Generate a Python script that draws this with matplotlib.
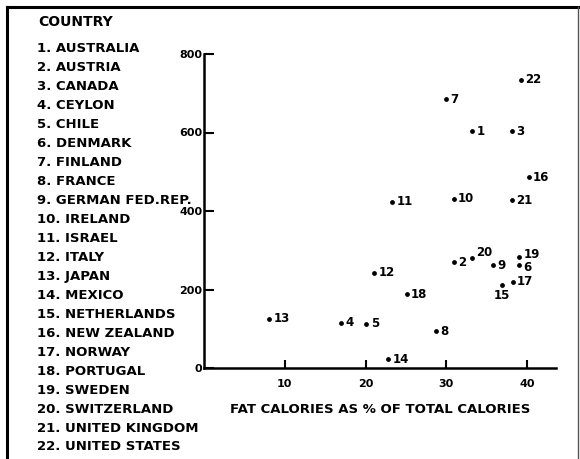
import matplotlib
matplotlib.use("Agg")
import matplotlib.pyplot as plt
from matplotlib.lines import Line2D

plt.rcParams['font.family'] = ['DejaVu Sans']
plt.rcParams['font.weight'] = 'bold'

countries = ["AUSTRALIA", "AUSTRIA", "CANADA", "CEYLON", "CHILE", "DENMARK",
             "FINLAND", "FRANCE", "GERMAN FED.REP.", "IRELAND", "ISRAEL",
             "ITALY", "JAPAN", "MEXICO", "NETHERLANDS", "NEW ZEALAND",
             "NORWAY", "PORTUGAL", "SWEDEN", "SWITZERLAND",
             "UNITED KINGDOM", "UNITED STATES"]
fat_pct = [33.2, 30.9, 38.1, 17.0, 20.1, 39.0, 30.0, 28.7, 35.8, 30.9, 23.3,
           21.1, 8.1, 22.8, 36.9, 40.2, 38.2, 25.1, 39.0, 33.2, 38.1, 39.2]
deaths = [603, 270, 603, 115, 113, 262, 685, 94, 262, 431, 424,
          243, 125, 22, 212, 486, 220, 188, 284, 279, 428, 734]
x_ticks = [10, 20, 30, 40]
y_ticks = [0, 200, 400, 600, 800]

W, H = 580, 459
fig = plt.figure(figsize=(W / 100, H / 100), dpi=100)
ax = fig.add_axes([204 / W, 91 / H, 351.5 / W, 314 / H])

ax.scatter(fat_pct, deaths, s=6, color='black', zorder=3, clip_on=False)
for i, (x, y) in enumerate(zip(fat_pct, deaths)):
    num = str(i + 1)
    # a few labels sit off to the side to avoid crowding
    if num == "15":
        off, ha, va = (0, -3), 'center', 'top'
    elif num == "20":
        off, ha, va = (3, 4), 'left', 'center'
    elif num == "19":
        off, ha, va = (3, 1.5), 'left', 'center'
    elif num == "6":
        off, ha, va = (3, -1.5), 'left', 'center'
    else:
        off, ha, va = (3, 0), 'left', 'center'
    ax.annotate(num, (x, y), xytext=off, textcoords='offset points',
                ha=ha, va=va, fontsize=8.5, fontweight='bold')

ax.set_xlim(0, 43.5)
ax.set_ylim(0, 800)
ax.spines['top'].set_visible(False)
ax.spines['right'].set_visible(False)
ax.spines['left'].set_linewidth(1.8)
ax.spines['bottom'].set_linewidth(1.8)
ax.set_xticks(x_ticks)
ax.set_yticks(y_ticks)
ax.tick_params(axis='x', direction='in', length=6, width=1.5, pad=8, labelsize=8)
ax.tick_params(axis='y', direction='in', length=7, width=1.5, pad=1, labelsize=8)
for lab in ax.get_xticklabels() + ax.get_yticklabels():
    lab.set_fontweight('bold')
ax.set_xlabel("FAT CALORIES AS % OF TOTAL CALORIES", fontsize=9.5,
              fontweight='bold', labelpad=10)

# country key on the left
fig.text(38 / W, 1 - 22 / H, "COUNTRY", fontsize=10, fontweight='bold',
         va='center', ha='left')
for i, name in enumerate(countries):
    fig.text(37 / W, 1 - (49 + i * 18.95) / H, f"{i + 1}. {name}",
             fontsize=9.5, fontweight='bold', va='center', ha='left')

# frame
fig.add_artist(Line2D([7 / W, 7 / W], [0, 1 - 7 / H], color='black', lw=2.2))
fig.add_artist(Line2D([7 / W, 578 / W], [1 - 7 / H, 1 - 7 / H], color='black', lw=2.2))
fig.add_artist(Line2D([578 / W, 578 / W], [0, 1 - 7 / H], color='#555555', lw=1))

fig.savefig("out.png", dpi=100)
